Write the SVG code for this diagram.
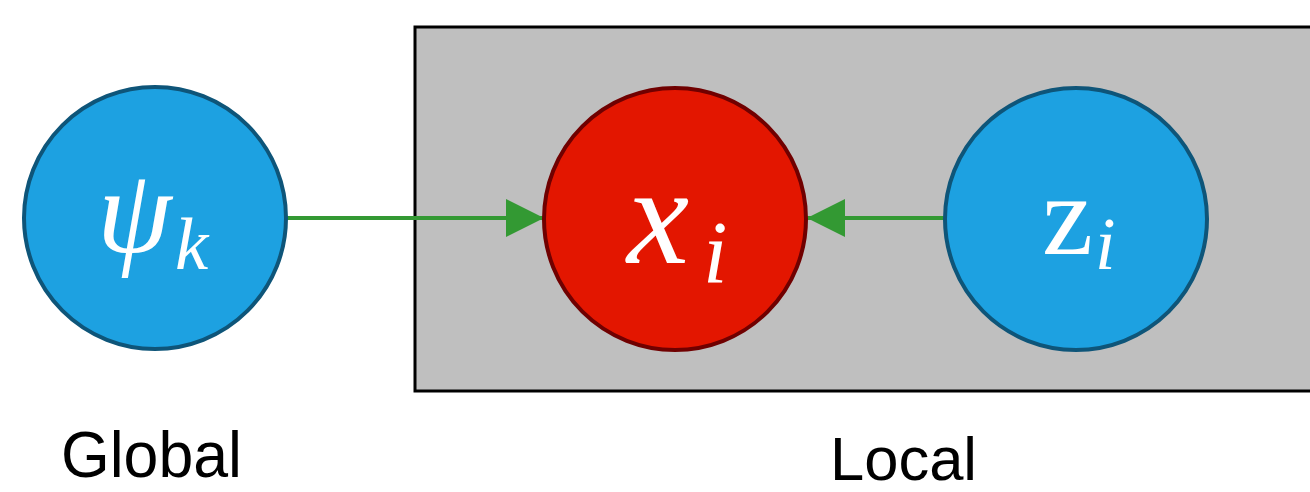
<svg xmlns="http://www.w3.org/2000/svg" width="1310" height="492" viewBox="0 0 1310 492">
<defs>
<style>
.blue{fill:#1DA1E1;stroke:#0E5579;stroke-width:4}
.red{fill:#E31600;stroke:#700000;stroke-width:4}
.math{fill:#fff;font-family:'Liberation Serif',serif}
.it{font-style:italic}
.lbl{font-family:'Liberation Sans',sans-serif;fill:#000}
.edge{stroke:#339933;stroke-width:4;fill:none}
</style>
<marker id="ah" viewBox="0 0 38 38" refX="38" refY="19" markerWidth="38" markerHeight="38" markerUnits="userSpaceOnUse" orient="auto">
<path d="M0,0 L38,19 L0,38 Z" fill="#339933"/>
</marker>
</defs>
<g id="plate">
<rect x="415" y="27" width="905" height="364" fill="#BFBFBF" stroke="#000" stroke-width="3"/>
</g>
<g id="connectors">
<line class="edge" x1="286" y1="218" x2="544" y2="218" marker-end="url(#ah)"/>
<line class="edge" x1="946" y1="218" x2="807" y2="218" marker-end="url(#ah)"/>
</g>
<g id="psi">
<circle class="blue" cx="155" cy="218" r="131"/>
<text class="math it" x="97" y="252" font-size="120">ψ</text>
<text class="math it" x="175" y="269" font-size="75">k</text>
</g>
<g id="x">
<circle class="red" cx="675" cy="219" r="131"/>
<text class="math it" x="627" y="263" font-size="140">x</text>
<text class="math it" x="703" y="282" font-size="88">i</text>
</g>
<g id="z">
<circle class="blue" cx="1076" cy="219" r="131"/>
<text class="math" x="1042" y="254" font-size="115">z</text>
<text class="math it" x="1095" y="269" font-size="74">i</text>
</g>
<g id="labels">
<text class="lbl" x="61" y="477" font-size="64" textLength="181" lengthAdjust="spacingAndGlyphs">Global</text>
<text class="lbl" x="830" y="480" font-size="62" textLength="147" lengthAdjust="spacingAndGlyphs">Local</text>
</g>
</svg>
